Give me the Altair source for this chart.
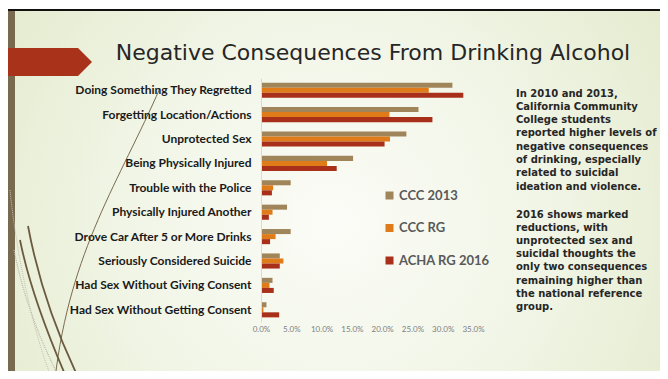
import altair as alt
import pandas as pd

categories = [
    "Doing Something They Regretted",
    "Forgetting Location/Actions",
    "Unprotected Sex",
    "Being Physically Injured",
    "Trouble with  the Police",
    "Physically Injured Another",
    "Drove Car After 5 or More Drinks",
    "Seriously Considered Suicide",
    "Had Sex Without Giving Consent",
    "Had Sex Without Getting Consent",
]
series = ["CCC 2013", "CCC RG", "ACHA RG 2016"]
colors = ["#a0855a", "#e07b1a", "#a8301a"]

ccc_2013 = [31.6, 26.0, 24.0, 15.2, 4.9, 4.3, 4.9, 3.1, 1.9, 0.9]
ccc_rg = [27.7, 21.2, 21.3, 10.9, 2.0, 1.9, 2.4, 3.7, 1.4, 0.4]
acha_2016 = [33.4, 28.3, 20.4, 12.5, 1.8, 1.3, 1.5, 3.1, 2.1, 3.0]

x_ticks = [0, 5, 10, 15, 20, 25, 30, 35]

title_text = "Negative Consequences From Drinking Alcohol"
para1 = [
    "In 2010 and 2013,",
    "California Community",
    "College students",
    "reported higher levels of",
    "negative consequences",
    "of drinking, especially",
    "related to suicidal",
    "ideation and violence.",
]
para2 = [
    "2016 shows marked",
    "reductions, with",
    "unprotected sex and",
    "suicidal thoughts the",
    "only two consequences",
    "remaining higher than",
    "the national reference",
    "group.",
]

rows = []
for vals, s in zip([ccc_2013, ccc_rg, acha_2016], series):
    for c, v in zip(categories, vals):
        rows.append({"cat": c, "series": s, "value": v})
df = pd.DataFrame(rows)
one = pd.DataFrame({"k": [0]})

W, H = 212, 244
PL, PT = 253, 70
PR, PB = 652 - PL - W, 363 - PT - H

# background
bg = alt.Chart(one).mark_rect(
    fill=alt.Gradient(
        gradient="radial",
        stops=[alt.GradientStop(color="#fbfcf7", offset=0),
               alt.GradientStop(color="#f1f5e6", offset=0.45),
               alt.GradientStop(color="#dfe8c5", offset=1)],
        x1=0.5, y1=0.55, x2=0.5, y2=0.55, r1=0, r2=0.72),
).encode(x=alt.value(-PL), x2=alt.value(W + PR), y=alt.value(-PT + 3), y2=alt.value(H + PB))

topline = alt.Chart(one).mark_rect(color="#111111").encode(
    x=alt.value(-PL), x2=alt.value(W + PR), y=alt.value(-PT + 1), y2=alt.value(-PT + 3))

band = alt.Chart(one).mark_rect(color="#776a4f").encode(
    x=alt.value(-PL), x2=alt.value(-PL + 7), y=alt.value(-PT + 3), y2=alt.value(H + PB))

# decorative curves (unit = 200px, centred at page (100,250))
cx, cy = 100 - 261, 250 - 78
curve_specs = [
    ("M0.3,-0.81 C0.1,-0.35 -0.15,0.0 -0.225,0.645", "#7a6a50", 1.0, None),
    ("M-0.4,-0.05 C-0.35,0.2 -0.25,0.45 -0.165,0.645", "#6b5a40", 1.8, None),
    ("M-0.36,-0.12 C-0.3,0.2 -0.2,0.45 -0.105,0.645", "#6b5a40", 1.8, None),
    ("M-0.43,0.0 C-0.38,0.25 -0.3,0.45 -0.2,0.645", "#b8b8a8", 1.2, [1, 1]),
    ("M-0.45,-0.3 C-0.42,0.0 -0.34,0.4 -0.24,0.645", "#c0c0b0", 1.0, [1, 1]),
]
curves = []
for path, col, sw, dash in curve_specs:
    kw = dict(shape=path, size=160000, filled=False, color=col, strokeWidth=sw, opacity=1)
    if dash:
        kw["strokeDash"] = dash
    curves.append(alt.Chart(one).mark_point(**kw).encode(x=alt.value(cx), y=alt.value(cy)))

arrow = alt.Chart(one).mark_point(
    shape="M-1,-0.33L0.67,-0.33L1,0L0.67,0.33L-1,0.33Z", size=7225, filled=True,
    color="#a8321a", opacity=1, strokeWidth=0,
).encode(x=alt.value(49.5 - 261), y=alt.value(62 - 78))

title = alt.Chart(one).mark_text(
    text=title_text, font="DejaVu Sans", fontSize=22, color="#262626", align="center", baseline="middle",
).encode(x=alt.value(373 - 261), y=alt.value(53 - 78))

side1 = alt.Chart(one).mark_text(
    text=para1, font="DejaVu Sans", fontSize=10, fontWeight="bold", color="#262626",
    align="left", baseline="top", lineHeight=13.3,
).encode(x=alt.value(516 - 261), y=alt.value(88.5 - 78))

side2 = alt.Chart(one).mark_text(
    text=para2, font="DejaVu Sans", fontSize=10, fontWeight="bold", color="#262626",
    align="left", baseline="top", lineHeight=13.2,
).encode(x=alt.value(516 - 261), y=alt.value(209.5 - 78))

bars = alt.Chart(df).mark_bar().encode(
    x=alt.X("value:Q", scale=alt.Scale(domain=[0, 35]),
            axis=alt.Axis(values=x_ticks, labelExpr="format(datum.value,'.1f')+'%'", domain=False,
                          ticks=False, grid=False, labelFontSize=8, labelColor="#7f7f7f",
                          labelFont="Lato", labelPadding=3, labelFlush=False, title=None, zindex=1)),
    y=alt.Y("cat:N", sort=categories, scale=alt.Scale(paddingInner=0.38, paddingOuter=0.19),
            axis=alt.Axis(title=None, ticks=False, domain=True, domainColor="#d9d9d9",
                          labelFontSize=12, labelFont="Lato", labelFontWeight="bold",
                          labelColor="#1a1a1a", labelPadding=10, labelLimit=300, zindex=1)),
    yOffset=alt.YOffset("series:N", sort=series),
    color=alt.Color("series:N", sort=series, scale=alt.Scale(domain=series, range=colors),
                    legend=alt.Legend(orient="none", legendX=122, legendY=111, title=None,
                                      symbolType="square", symbolSize=64, symbolStrokeWidth=0,
                                      symbolOpacity=1, labelFontSize=13, labelFont="Lato",
                                      labelFontWeight="bold", labelColor="#595959",
                                      rowPadding=18.5, padding=0, labelOffset=3)),
)

chart = alt.layer(bg, topline, band, *curves, arrow, title, side1, side2, bars).properties(
    width=W, height=H,
    padding={"left": PL, "top": PT, "right": PR, "bottom": PB},
    autosize=alt.AutoSizeParams(type="none"),
).configure_view(stroke=None).configure(background="white")

chart.save("out.html", embed_options={"renderer": "svg", "actions": False})
